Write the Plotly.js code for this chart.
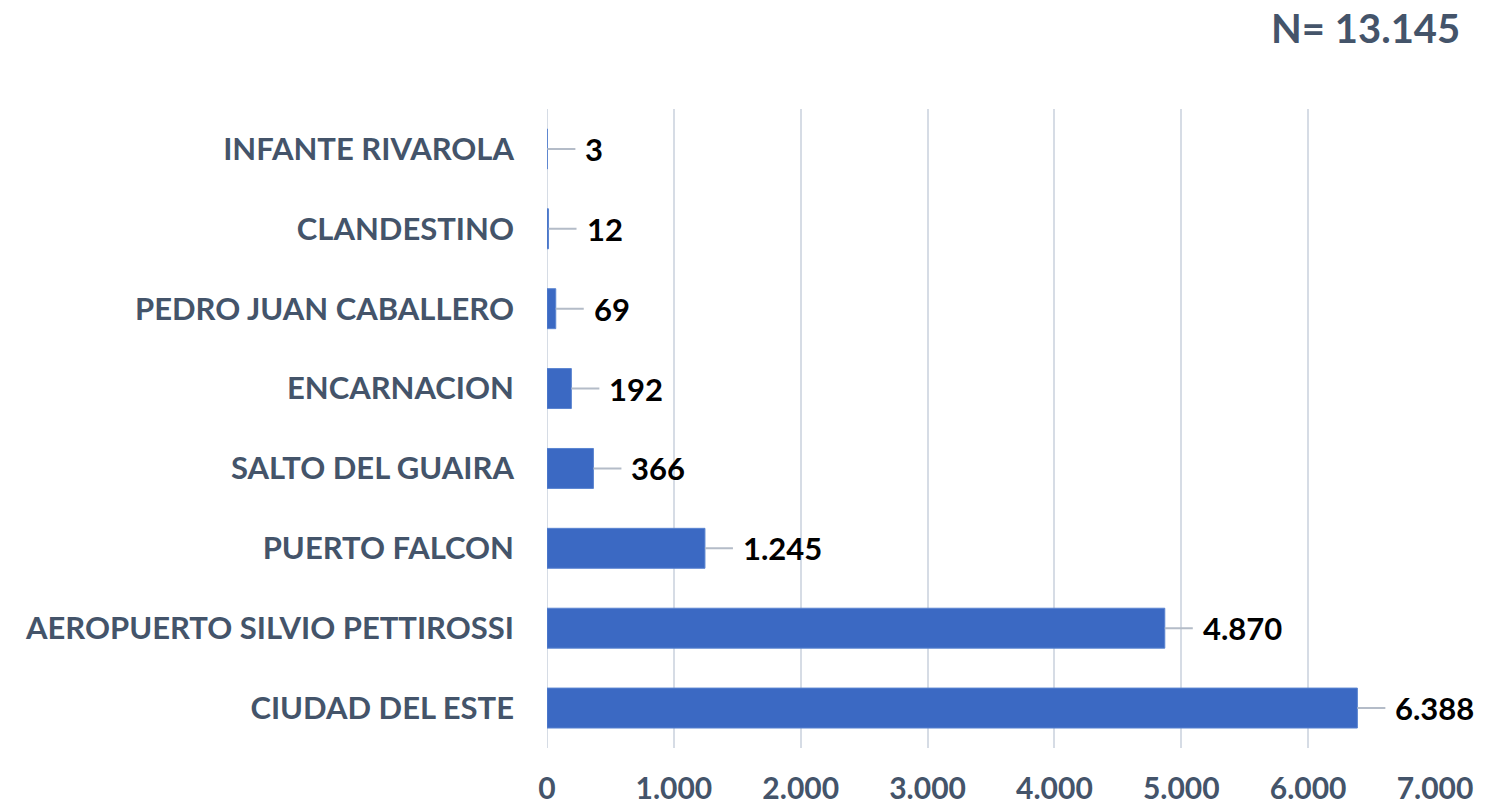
<!DOCTYPE html>
<html><head><meta charset="utf-8">
<script src="https://cdn.plot.ly/plotly-3.0.1.min.js"></script>
<style>html,body{margin:0;padding:0;background:#fff;}#chart{width:1488px;height:809px;}</style>
</head><body><div id="chart"></div>
<script>
const categories = ["CIUDAD DEL ESTE", "AEROPUERTO SILVIO PETTIROSSI", "PUERTO FALCON", "SALTO DEL GUAIRA", "ENCARNACION", "PEDRO JUAN CABALLERO", "CLANDESTINO", "INFANTE RIVAROLA"];
const values = [6388, 4870, 1245, 366, 192, 69, 12, 3];
const tickValues = [0, 1000, 2000, 3000, 4000, 5000, 6000, 7000];
const tickLabels = ["0", "1.000", "2.000", "3.000", "4.000", "5.000", "6.000", "7.000"];
const totalLabel = "N= 13.145";

function fmt(v){ return String(v).replace(/\B(?=(\d{3})+(?!\d))/g, "."); }

const FONT = "Lato, 'Open Sans', sans-serif";
const trace = {
  type: "bar", orientation: "h",
  x: values, y: categories,
  width: 0.5,
  marker: {color: "#3B69C3", line: {color: "#5A84D0", width: 1}},
  hoverinfo: "skip"
};
const annotations = values.map((v, i) => ({
  x: v, y: categories[i], xref: "x", yref: "y",
  text: "<b>" + fmt(v) + "</b>",
  showarrow: true, arrowhead: 0, arrowwidth: 2, arrowcolor: "#B4BCC8",
  ax: 36, ay: 0, xanchor: "left", startstandoff: 8,
  font: {family: FONT, size: 31, color: "#000000"}
}));
annotations.push({
  xref: "paper", yref: "paper", x: 1.03, y: 1.0, yshift: 81,
  xanchor: "right", yanchor: "middle", showarrow: false,
  text: "<b>" + totalLabel + "</b>",
  font: {family: FONT, size: 40, color: "#44546A"}
});
const layout = {
  width: 1488, height: 809,
  margin: {l: 547, r: 53, t: 109, b: 61},
  paper_bgcolor: "#ffffff", plot_bgcolor: "#ffffff",
  showlegend: false,
  xaxis: {
    range: [0, 7000], tickvals: tickValues, ticktext: tickLabels,
    showgrid: true, gridcolor: "#D6DCE5", gridwidth: 2,
    zeroline: false, showline: false, ticks: "",
    ticklabelstandoff: 20,
    tickfont: {family: FONT, size: 30, color: "#44546A", weight: "bold"}
  },
  yaxis: {
    type: "category", categoryorder: "array", categoryarray: categories,
    range: [-0.5, 7.5], showgrid: false, zeroline: false, showline: false,
    ticks: "", ticklabelstandoff: 32,
    tickfont: {family: FONT, size: 31, color: "#44546A", weight: "bold"}
  },
  shapes: [{type: "line", xref: "x", yref: "paper", x0: 0, x1: 0, y0: 0, y1: 1, line: {color: "#D6DCE5", width: 2}, layer: "below"}],
  annotations: annotations
};
Plotly.newPlot("chart", [trace], layout, {staticPlot: true, displayModeBar: false});
</script></body></html>
